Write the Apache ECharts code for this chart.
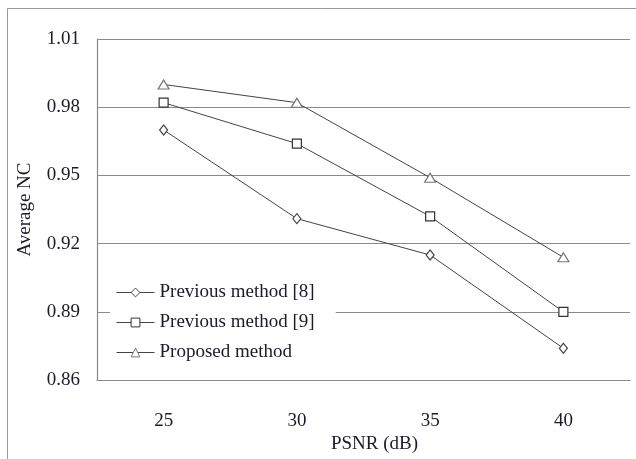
<!DOCTYPE html>
<html>
<head>
<meta charset="utf-8">
<script src="https://cdn.jsdelivr.net/npm/echarts@6/dist/echarts.min.js"></script>
<style>
  html, body { margin: 0; padding: 0; background: #fff; }
  #chart { width: 636px; height: 459px; }
</style>
</head>
<body>
<div id="chart"></div>
<script>
const psnr = ["25", "30", "35", "40"];
const method8 = [0.970, 0.931, 0.915, 0.874];
const method9 = [0.982, 0.964, 0.932, 0.890];
const proposed = [0.990, 0.982, 0.949, 0.914];
const seriesNames = ["Previous method [8]", "Previous method [9]", "Proposed method"];

const serif = "Liberation Serif, Times New Roman, serif";
const textColor = "#1a1a2a";

const chart = echarts.init(document.getElementById("chart"));

function lineSeries(name, data, symbol, size, markColor) {
  return {
    name: name,
    type: "line",
    data: data,
    symbol: symbol,
    symbolSize: size,
    showAllSymbol: true,
    lineStyle: { color: "#444", width: 1 },
    itemStyle: { color: "#fff", borderColor: markColor, borderWidth: 1.2 },
    emphasis: { disabled: true },
    z: 3,
  };
}

chart.setOption({
  backgroundColor: "#fff",
  animation: false,
  textStyle: { fontFamily: serif },
  graphic: [
    {
      type: "polyline",
      shape: { points: [[7.5, 459], [7.5, 8.5], [636, 8.5]] },
      style: { stroke: "#999", lineWidth: 1, fill: null },
    },
  ],
  grid: { left: 97, right: 6, top: 39, bottom: 77 },
  legend: {
    data: seriesNames,
    orient: "vertical",
    left: 110,
    top: 279,
    itemWidth: 38,
    itemHeight: 11,
    itemGap: 11,
    backgroundColor: "#fff",
    padding: [4, 21, 4, 6],
    itemStyle: { color: "#fff", borderWidth: 1 },
    lineStyle: { color: "#444", width: 1 },
    textStyle: { fontFamily: serif, fontSize: 19, color: textColor },
  },
  xAxis: {
    type: "category",
    data: psnr,
    boundaryGap: true,
    axisLine: { show: true, lineStyle: { color: "#8a8a8a", width: 1.2 } },
    axisTick: { show: false },
    axisLabel: { color: textColor, fontSize: 19, fontFamily: serif, margin: 31 },
    name: "PSNR (dB)",
    nameLocation: "middle",
    nameGap: 52,
    nameTextStyle: { color: textColor, fontSize: 19, fontFamily: serif, padding: [0, 0, 0, 22] },
  },
  yAxis: {
    type: "value",
    min: 0.86,
    max: 1.01,
    interval: 0.03,
    axisLine: { show: true, lineStyle: { color: "#8a8a8a", width: 1.2 } },
    axisTick: { show: false },
    splitLine: { show: true, lineStyle: { color: "#8a8a8a", width: 1.2 } },
    axisLabel: {
      color: textColor,
      fontSize: 19,
      fontFamily: serif,
      margin: 17,
      formatter: (v) => v.toFixed(2),
    },
    name: "Average NC",
    nameLocation: "middle",
    nameGap: 62,
    nameTextStyle: { color: textColor, fontSize: 19, fontFamily: serif },
  },
  series: [
    lineSeries(seriesNames[0], method8, "diamond", [8, 10], "#444"),
    lineSeries(seriesNames[1], method9, "rect", 9, "#333"),
    lineSeries(seriesNames[2], proposed, "triangle", [11, 9], "#777"),
  ],
});
</script>
</body>
</html>
